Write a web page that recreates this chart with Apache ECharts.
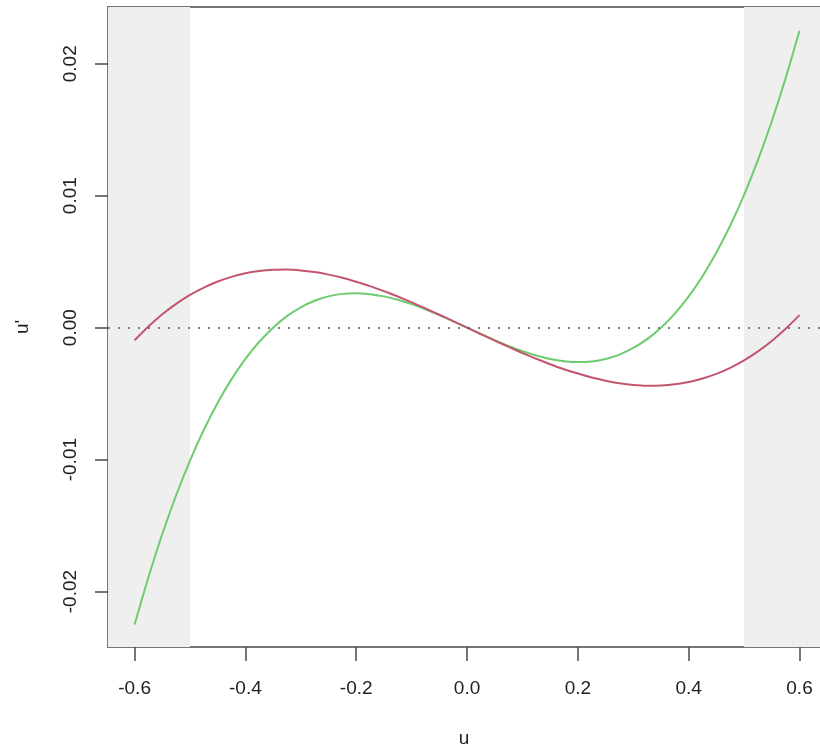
<!DOCTYPE html>
<html>
<head>
<meta charset="utf-8">
<script src="https://cdn.jsdelivr.net/npm/echarts@6/dist/echarts.min.js"></script>
<style>
html,body{margin:0;padding:0;background:#fff;}
#c{width:820px;height:753px;}
</style>
</head>
<body>
<div id="c"></div>
<script>
const uValues = [-0.6,-0.575,-0.55,-0.525,-0.5,-0.475,-0.45,-0.425,-0.4,-0.375,-0.35,-0.325,-0.3,-0.275,-0.25,-0.225,-0.2,-0.175,-0.15,-0.125,-0.1,-0.075,-0.05,-0.025,0,
  0.025,0.05,0.075,0.1,0.125,0.15,0.175,0.2,0.225,0.25,0.275,0.3,0.325,0.35,0.375,0.4,0.425,0.45,0.475,0.5,0.525,0.55,0.575,0.6];
const greenValues = [-0.0225,-0.01891,-0.01564,-0.0127,-0.01007,-0.00774,-0.00569,-0.0039,-0.00237,-0.00107,0,0.00087,0.00154,0.00204,0.00237,0.00256,0.00261,0.00254,0.00237,0.00211,0.00178,0.00139,0.00095,0.00048,0,
  -0.00048,-0.00095,-0.00139,-0.00178,-0.00211,-0.00237,-0.00254,-0.00261,-0.00256,-0.00237,-0.00204,-0.00154,-0.00087,0,0.00107,0.00237,0.0039,0.00569,0.00774,0.01007,0.0127,0.01564,0.01891,0.0225];
const redValues = [-0.00095,0.00009,0.00101,0.0018,0.00248,0.00304,0.0035,0.00385,0.00412,0.00429,0.00438,0.0044,0.00434,0.00421,0.00402,0.00378,0.00348,0.00315,0.00277,0.00236,0.00192,0.00146,0.00098,0.00049,0,
  -0.00049,-0.00098,-0.00146,-0.00192,-0.00236,-0.00277,-0.00315,-0.00348,-0.00378,-0.00402,-0.00421,-0.00434,-0.0044,-0.00438,-0.00429,-0.00412,-0.00385,-0.0035,-0.00304,-0.00248,-0.0018,-0.00101,-0.00009,0.00095];
const xTicks = [-0.6,-0.4,-0.2,0,0.2,0.4,0.6];
const yTicks = [-0.02,-0.01,0,0.01,0.02];
const xRange = [-0.648, 0.637];
const yRange = [-0.0242, 0.0243];
const shadeLeft = [-0.648, -0.5];
const shadeRight = [0.5, 0.637];

const chart = echarts.init(document.getElementById('c'), null, {renderer:'canvas'});
const font = 'Liberation Sans, Arial, Helvetica, sans-serif';
const pair = (xs, ys) => xs.map((x,i)=>[x, ys[i]]);
const axisColor = '#4a4a4a';

chart.setOption({
  animation:false,
  backgroundColor:'#fff',
  grid:{left:108, top:7, right:0, bottom:97, show:false},
  xAxis:[{
    type:'value', min:xRange[0], max:xRange[1], position:'bottom',
    splitLine:{show:false},
    axisLine:{show:true, onZero:false, lineStyle:{color:axisColor, width:1.5}},
    axisTick:{show:true, inside:false, length:14, customValues:xTicks, lineStyle:{color:axisColor, width:1.5}},
    axisLabel:{show:true, customValues:xTicks, margin:32, fontSize:19, fontFamily:font, color:'#222',
      formatter:v=>v.toFixed(1)},
    name:'u', nameLocation:'middle', nameGap:82, nameTextStyle:{fontSize:19, fontFamily:font, color:'#222'}
  },{
    type:'value', min:xRange[0], max:xRange[1], position:'top',
    splitLine:{show:false},
    axisLine:{show:true, onZero:false, lineStyle:{color:axisColor, width:1.5}},
    axisTick:{show:false}, axisLabel:{show:false}
  }],
  yAxis:{
    type:'value', min:yRange[0], max:yRange[1],
    splitLine:{show:false},
    axisLine:{show:true, onZero:false, lineStyle:{color:axisColor, width:1.5}},
    axisTick:{show:true, inside:false, length:13, customValues:yTicks, lineStyle:{color:axisColor, width:1.5}},
    axisLabel:{show:true, customValues:yTicks, rotate:90, margin:28, fontSize:19, fontFamily:font, color:'#222',
      formatter:v=>v.toFixed(2)},
    name:"u'", nameLocation:'middle', nameGap:76, nameRotate:90, nameTextStyle:{fontSize:19, fontFamily:font, color:'#222'}
  },
  series:[
    {
      type:'line', name:'green', data:pair(uValues, greenValues), smooth:0.2, showSymbol:false,
      lineStyle:{color:'#6dcc6d', width:2}, z:3,
      markArea:{silent:true, itemStyle:{color:'#efefef'}, data:[
        [{xAxis:shadeLeft[0]},{xAxis:shadeLeft[1]}],
        [{xAxis:shadeRight[0]},{xAxis:shadeRight[1]}]
      ]},
      markLine:{silent:true, symbol:'none', label:{show:false},
        lineStyle:{color:'#555', width:1.6, type:[2,8]}, data:[{yAxis:0}]}
    },
    {
      type:'line', name:'red', data:pair(uValues, redValues), smooth:0.2, showSymbol:false,
      lineStyle:{color:'#c2566f', width:2}, z:4
    }
  ]
});
</script>
</body>
</html>
